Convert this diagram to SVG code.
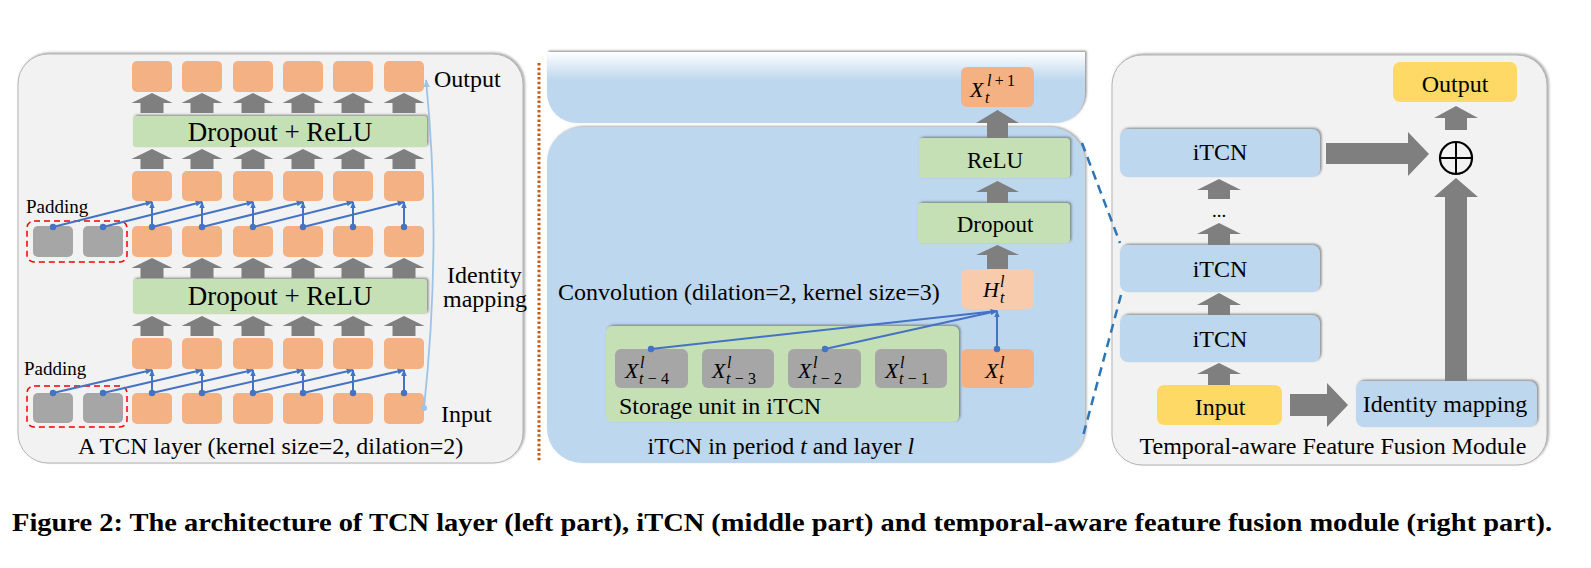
<svg xmlns="http://www.w3.org/2000/svg" width="1591" height="568" viewBox="0 0 1591 568">
<style>
  text { font-family: "Liberation Serif", "Times New Roman", serif; fill: #000; }
  .t24 { font-size: 24px; }
  .t23 { font-size: 23px; }
  .t27 { font-size: 27px; }
  .t19 { font-size: 19px; }
  .mid { text-anchor: middle; }
  .mx { font-size: 22px; font-style: italic; }
  .ms { font-size: 16px; font-style: italic; }
  .panel { fill: #F2F2F2; stroke: #B4B4B4; stroke-width: 1; }
  .org { fill: #F4B183; }
  .org2 { fill: #F8CBAD; }
  .gry { fill: #A6A6A6; }
  .grn { fill: #C5E0B4; }
  .blu { fill: #BDD7EE; }
  .yel { fill: #FFD966; }
  .garr { fill: #7F7F7F; }
  .conn { stroke: #4472C4; stroke-width: 2; fill: none; }
  .dot { fill: #4472C4; }
  .pad { fill: none; stroke: #FF0000; stroke-width: 1.5; stroke-dasharray: 6 4; }
  .dash { stroke: #2E75B6; stroke-width: 2.5; stroke-dasharray: 9 6; fill: none; }
</style>
<defs>
  <filter id="sh" x="-5%" y="-10%" width="110%" height="120%">
    <feDropShadow dx="1.5" dy="-1.2" stdDeviation="1" flood-color="#606060" flood-opacity="0.7"/>
  </filter>
  <filter id="psh" x="-5%" y="-5%" width="110%" height="110%">
    <feDropShadow dx="1.5" dy="-1" stdDeviation="1.2" flood-color="#707070" flood-opacity="0.6"/>
  </filter>
  <linearGradient id="fade" gradientUnits="userSpaceOnUse" x1="0" y1="52" x2="0" y2="80">
    <stop offset="0" stop-color="#FFFFFF"/>
    <stop offset="1" stop-color="#BDD7EE"/>
  </linearGradient>
  <path id="ua" d="M0,0 L20.5,10 L11.5,10 L11.5,20 L-11.5,20 L-11.5,10 L-20.5,10 Z"/>
  <marker id="ah" viewBox="0 0 10 10" refX="9" refY="5" markerWidth="7" markerHeight="7" markerUnits="userSpaceOnUse" orient="auto">
    <path d="M0,1 L10,5 L0,9 Z" fill="#4472C4"/>
  </marker>
  <marker id="ahl" viewBox="0 0 10 10" refX="9" refY="5" markerWidth="8" markerHeight="8" markerUnits="userSpaceOnUse" orient="auto">
    <path d="M0,1 L10,5 L0,9 Z" fill="#9DC3E6"/>
  </marker>
</defs>

<!-- ===== Left panel: TCN layer ===== -->
<g id="left-panel">
  <rect class="panel" x="18" y="54" width="505" height="409" rx="30" filter="url(#psh)"/>
</g>
<g id="tcn-row1">
  <rect class="org" x="132" y="61" width="40" height="31" rx="5"/>
  <rect class="org" x="182" y="61" width="40" height="31" rx="5"/>
  <rect class="org" x="233" y="61" width="40" height="31" rx="5"/>
  <rect class="org" x="283" y="61" width="40" height="31" rx="5"/>
  <rect class="org" x="333" y="61" width="40" height="31" rx="5"/>
  <rect class="org" x="384" y="61" width="40" height="31" rx="5"/>
</g>
<g id="tcn-bar1">
  <rect class="grn" x="133" y="116" width="294" height="31" rx="3" filter="url(#sh)"/>
  <text class="t27 mid" x="280" y="141">Dropout + ReLU</text>
</g>
<g id="tcn-row2">
  <rect class="org" x="132" y="171" width="40" height="30" rx="5"/>
  <rect class="org" x="182" y="171" width="40" height="30" rx="5"/>
  <rect class="org" x="233" y="171" width="40" height="30" rx="5"/>
  <rect class="org" x="283" y="171" width="40" height="30" rx="5"/>
  <rect class="org" x="333" y="171" width="40" height="30" rx="5"/>
  <rect class="org" x="384" y="171" width="40" height="30" rx="5"/>
</g>
<g id="tcn-row3">
  <rect class="gry" x="33" y="226" width="40" height="31" rx="5"/>
  <rect class="gry" x="83" y="226" width="40" height="31" rx="5"/>
  <rect class="org" x="132" y="226" width="40" height="31" rx="5"/>
  <rect class="org" x="182" y="226" width="40" height="31" rx="5"/>
  <rect class="org" x="233" y="226" width="40" height="31" rx="5"/>
  <rect class="org" x="283" y="226" width="40" height="31" rx="5"/>
  <rect class="org" x="333" y="226" width="40" height="31" rx="5"/>
  <rect class="org" x="384" y="226" width="40" height="31" rx="5"/>
  <rect class="pad" x="27" y="221" width="100" height="41" rx="7"/>
  <text class="t19" x="26" y="213">Padding</text>
</g>
<g id="tcn-bar2">
  <rect class="grn" x="133" y="279" width="294" height="35" rx="3" filter="url(#sh)"/>
  <text class="t27 mid" x="280" y="305">Dropout + ReLU</text>
</g>
<g id="tcn-row4">
  <rect class="org" x="132" y="338" width="40" height="31" rx="5"/>
  <rect class="org" x="182" y="338" width="40" height="31" rx="5"/>
  <rect class="org" x="233" y="338" width="40" height="31" rx="5"/>
  <rect class="org" x="283" y="338" width="40" height="31" rx="5"/>
  <rect class="org" x="333" y="338" width="40" height="31" rx="5"/>
  <rect class="org" x="384" y="338" width="40" height="31" rx="5"/>
</g>
<g id="tcn-row5">
  <rect class="gry" x="33" y="393" width="40" height="30" rx="5"/>
  <rect class="gry" x="83" y="393" width="40" height="30" rx="5"/>
  <rect class="org" x="132" y="393" width="40" height="31" rx="5"/>
  <rect class="org" x="182" y="393" width="40" height="31" rx="5"/>
  <rect class="org" x="233" y="393" width="40" height="31" rx="5"/>
  <rect class="org" x="283" y="393" width="40" height="31" rx="5"/>
  <rect class="org" x="333" y="393" width="40" height="31" rx="5"/>
  <rect class="org" x="384" y="393" width="40" height="31" rx="5"/>
  <rect class="pad" x="27" y="386" width="100" height="41" rx="7"/>
  <text class="t19" x="24" y="375">Padding</text>
</g>
<g id="tcn-labels">
  <text class="t24" x="434" y="87">Output</text>
  <text class="t24" x="447" y="283">Identity</text>
  <text class="t24" x="443" y="307">mapping</text>
  <text class="t24" x="441" y="422">Input</text>
  <text class="t24" x="78" y="454">A TCN layer (kernel size=2, dilation=2)</text>
</g>

<!-- divider -->
<g id="divider">
  <line x1="539" y1="63" x2="539" y2="462" stroke="#C55A11" stroke-width="3" stroke-dasharray="2.5 2.2"/>
</g>

<!-- ===== Middle panel: iTCN ===== -->
<g id="mid-prev-layer">
  <path d="M547,52 H1085 V93 A30,30 0 0 1 1055,123 H577 A30,30 0 0 1 547,93 Z" fill="url(#fade)" filter="url(#sh)"/>
</g>
<g id="mid-panel">
  <rect class="blu" x="547" y="127" width="538" height="336" rx="35" filter="url(#psh)"/>
  <text class="t24" x="647.5" y="454">iTCN in period <tspan font-style="italic">t</tspan> and layer <tspan font-style="italic">l</tspan></text>
  <text class="t24" x="558" y="300">Convolution (dilation=2, kernel size=3)</text>
</g>
<g id="x-next">
  <rect class="org" x="961" y="67" width="73" height="40" rx="6"/>
  <text class="mx" x="970" y="97">X</text>
  <text class="ms" x="987" y="86" textLength="28" lengthAdjust="spacing">l<tspan font-style="normal">+1</tspan></text>
  <text class="ms" x="985" y="103">t</text>
</g>
<g id="relu">
  <rect class="grn" x="919" y="138" width="151" height="40" rx="4" filter="url(#sh)"/>
  <text class="t23 mid" x="995" y="168">ReLU</text>
</g>
<g id="dropout">
  <rect class="grn" x="918" y="203" width="152" height="40" rx="4" filter="url(#sh)"/>
  <text class="t23 mid" x="995" y="232">Dropout</text>
</g>
<g id="h-node">
  <rect class="org2" x="961" y="269" width="73" height="40" rx="6"/>
  <text class="mx" x="983" y="297">H</text>
  <text class="ms" x="1000" y="287">l</text>
  <text class="ms" x="1000" y="303">t</text>
</g>
<g id="storage-unit">
  <rect class="grn" x="606" y="326" width="353" height="96" rx="6" filter="url(#sh)"/>
  <text class="t24" x="619" y="414">Storage unit in iTCN</text>
</g>
<g id="x-t-4">
  <rect class="gry" x="615" y="349" width="73" height="39" rx="6"/>
  <text class="mx" x="625" y="378">X</text>
  <text class="ms" x="640" y="368">l</text>
  <text class="ms" x="639" y="384" textLength="30" lengthAdjust="spacing">t<tspan font-style="normal">−4</tspan></text>
</g>
<g id="x-t-3">
  <rect class="gry" x="702" y="349" width="72" height="39" rx="6"/>
  <text class="mx" x="712" y="378">X</text>
  <text class="ms" x="727" y="368">l</text>
  <text class="ms" x="726" y="384" textLength="30" lengthAdjust="spacing">t<tspan font-style="normal">−3</tspan></text>
</g>
<g id="x-t-2">
  <rect class="gry" x="788" y="349" width="73" height="39" rx="6"/>
  <text class="mx" x="798" y="378">X</text>
  <text class="ms" x="813" y="368">l</text>
  <text class="ms" x="812" y="384" textLength="30" lengthAdjust="spacing">t<tspan font-style="normal">−2</tspan></text>
</g>
<g id="x-t-1">
  <rect class="gry" x="875" y="349" width="72" height="39" rx="6"/>
  <text class="mx" x="885" y="378">X</text>
  <text class="ms" x="900" y="368">l</text>
  <text class="ms" x="899" y="384" textLength="30" lengthAdjust="spacing">t<tspan font-style="normal">−1</tspan></text>
</g>
<g id="x-t">
  <rect class="org" x="961" y="349" width="73" height="39" rx="6"/>
  <text class="mx" x="985" y="378">X</text>
  <text class="ms" x="1000" y="368">l</text>
  <text class="ms" x="999" y="384">t</text>
</g>

<!-- ===== Right panel: fusion module ===== -->
<g id="right-panel">
  <rect class="panel" x="1112" y="55" width="435" height="410" rx="30" filter="url(#psh)"/>
  <text class="t24 mid" x="1333" y="454">Temporal-aware Feature Fusion Module</text>
</g>
<g id="itcn-top">
  <rect class="blu" x="1120" y="129" width="200" height="48" rx="8" filter="url(#sh)"/>
  <text class="t24 mid" x="1220" y="160">iTCN</text>
</g>
<g id="ellipsis">
  <text class="t19 mid" x="1219" y="217">...</text>
</g>
<g id="itcn-2">
  <rect class="blu" x="1120" y="245" width="200" height="47" rx="8" filter="url(#sh)"/>
  <text class="t24 mid" x="1220" y="277">iTCN</text>
</g>
<g id="itcn-1">
  <rect class="blu" x="1120" y="315" width="200" height="47" rx="8" filter="url(#sh)"/>
  <text class="t24 mid" x="1220" y="347">iTCN</text>
</g>
<g id="input">
  <rect class="yel" x="1157" y="385" width="125" height="40" rx="7"/>
  <text class="t24 mid" x="1220" y="415">Input</text>
</g>
<g id="identity-mapping">
  <rect class="blu" x="1356" y="381" width="181" height="46" rx="8" filter="url(#sh)"/>
  <text class="t24 mid" x="1445" y="412">Identity mapping</text>
</g>
<g id="output">
  <rect class="yel" x="1393" y="62" width="124" height="40" rx="7"/>
  <text class="t24 mid" x="1455" y="92">Output</text>
</g>
<g id="sum">
  <circle cx="1456" cy="158" r="16" fill="none" stroke="#000" stroke-width="2.2"/>
  <line x1="1440" y1="158" x2="1472" y2="158" stroke="#000" stroke-width="2"/>
  <line x1="1456" y1="142" x2="1456" y2="174" stroke="#000" stroke-width="2"/>
</g>

<!-- ===== Connectors ===== -->
<g id="connectors">
  <g class="garr">
    <use href="#ua" x="152" y="93"/><use href="#ua" x="202" y="93"/><use href="#ua" x="253" y="93"/>
    <use href="#ua" x="303" y="93"/><use href="#ua" x="353" y="93"/><use href="#ua" x="404" y="93"/>
    <use href="#ua" x="152" y="149"/><use href="#ua" x="202" y="149"/><use href="#ua" x="253" y="149"/>
    <use href="#ua" x="303" y="149"/><use href="#ua" x="353" y="149"/><use href="#ua" x="404" y="149"/>
    <use href="#ua" x="152" y="258"/><use href="#ua" x="202" y="258"/><use href="#ua" x="253" y="258"/>
    <use href="#ua" x="303" y="258"/><use href="#ua" x="353" y="258"/><use href="#ua" x="404" y="258"/>
    <use href="#ua" x="152" y="316"/><use href="#ua" x="202" y="316"/><use href="#ua" x="253" y="316"/>
    <use href="#ua" x="303" y="316"/><use href="#ua" x="353" y="316"/><use href="#ua" x="404" y="316"/>
  </g>
  <g>
    <line class="conn" x1="53" y1="227" x2="152" y2="202" marker-end="url(#ah)"/>
    <line class="conn" x1="103" y1="227" x2="202" y2="202" marker-end="url(#ah)"/>
    <line class="conn" x1="152" y1="227" x2="253" y2="202" marker-end="url(#ah)"/>
    <line class="conn" x1="202" y1="227" x2="303" y2="202" marker-end="url(#ah)"/>
    <line class="conn" x1="253" y1="227" x2="353" y2="202" marker-end="url(#ah)"/>
    <line class="conn" x1="303" y1="227" x2="404" y2="202" marker-end="url(#ah)"/>
    <line class="conn" x1="152" y1="227" x2="152" y2="202" marker-end="url(#ah)"/>
    <line class="conn" x1="202" y1="227" x2="202" y2="202" marker-end="url(#ah)"/>
    <line class="conn" x1="253" y1="227" x2="253" y2="202" marker-end="url(#ah)"/>
    <line class="conn" x1="303" y1="227" x2="303" y2="202" marker-end="url(#ah)"/>
    <line class="conn" x1="353" y1="227" x2="353" y2="202" marker-end="url(#ah)"/>
    <line class="conn" x1="404" y1="227" x2="404" y2="202" marker-end="url(#ah)"/>
    <circle class="dot" cx="53" cy="227" r="3.2"/><circle class="dot" cx="103" cy="227" r="3.2"/>
    <circle class="dot" cx="152" cy="227" r="3.2"/><circle class="dot" cx="202" cy="227" r="3.2"/>
    <circle class="dot" cx="253" cy="227" r="3.2"/><circle class="dot" cx="303" cy="227" r="3.2"/>
    <circle class="dot" cx="353" cy="227" r="3.2"/><circle class="dot" cx="404" cy="227" r="3.2"/>
  </g>
  <g>
    <line class="conn" x1="53" y1="393" x2="152" y2="370" marker-end="url(#ah)"/>
    <line class="conn" x1="103" y1="393" x2="202" y2="370" marker-end="url(#ah)"/>
    <line class="conn" x1="152" y1="393" x2="253" y2="370" marker-end="url(#ah)"/>
    <line class="conn" x1="202" y1="393" x2="303" y2="370" marker-end="url(#ah)"/>
    <line class="conn" x1="253" y1="393" x2="353" y2="370" marker-end="url(#ah)"/>
    <line class="conn" x1="303" y1="393" x2="404" y2="370" marker-end="url(#ah)"/>
    <line class="conn" x1="152" y1="393" x2="152" y2="370" marker-end="url(#ah)"/>
    <line class="conn" x1="202" y1="393" x2="202" y2="370" marker-end="url(#ah)"/>
    <line class="conn" x1="253" y1="393" x2="253" y2="370" marker-end="url(#ah)"/>
    <line class="conn" x1="303" y1="393" x2="303" y2="370" marker-end="url(#ah)"/>
    <line class="conn" x1="353" y1="393" x2="353" y2="370" marker-end="url(#ah)"/>
    <line class="conn" x1="404" y1="393" x2="404" y2="370" marker-end="url(#ah)"/>
    <circle class="dot" cx="53" cy="393" r="3.2"/><circle class="dot" cx="103" cy="393" r="3.2"/>
    <circle class="dot" cx="152" cy="393" r="3.2"/><circle class="dot" cx="202" cy="393" r="3.2"/>
    <circle class="dot" cx="253" cy="393" r="3.2"/><circle class="dot" cx="303" cy="393" r="3.2"/>
    <circle class="dot" cx="353" cy="393" r="3.2"/><circle class="dot" cx="404" cy="393" r="3.2"/>
  </g>
  <path d="M424,408 Q442,240 426,80" stroke="#9DC3E6" stroke-width="1.8" fill="none" marker-end="url(#ahl)"/>
  <circle cx="424" cy="408" r="3" fill="#9DC3E6"/>

  <g class="garr">
    <path d="M997.5,110 L1019,123 L1008,123 L1008,138 L987,138 L987,123 L976,123 Z"/>
    <path d="M997.5,181 L1019,192 L1008,192 L1008,203 L987,203 L987,192 L976,192 Z"/>
    <path d="M997.5,245 L1019,255 L1008,255 L1008,269 L987,269 L987,255 L976,255 Z"/>
  </g>
  <line class="conn" x1="651" y1="349" x2="997" y2="311" marker-end="url(#ah)"/>
  <line class="conn" x1="825" y1="349" x2="997" y2="311" marker-end="url(#ah)"/>
  <line class="conn" x1="997" y1="349" x2="997" y2="311" marker-end="url(#ah)"/>
  <circle class="dot" cx="651" cy="349" r="3.2"/>
  <circle class="dot" cx="825" cy="349" r="3.2"/>
  <circle class="dot" cx="997" cy="349" r="3.2"/>

  <line class="dash" x1="1082" y1="143" x2="1120" y2="243"/>
  <line class="dash" x1="1121" y1="295" x2="1083" y2="436"/>

  <g class="garr">
    <path d="M1219,179 L1241,190 L1230,190 L1230,199 L1208,199 L1208,190 L1197,190 Z"/>
    <path d="M1219,223 L1241,234 L1230,234 L1230,245 L1208,245 L1208,234 L1197,234 Z"/>
    <path d="M1219,293 L1241,305 L1230,305 L1230,315 L1208,315 L1208,305 L1197,305 Z"/>
    <path d="M1219,363 L1241,374 L1230,374 L1230,385 L1208,385 L1208,374 L1197,374 Z"/>
    <path d="M1456,106 L1478,118 L1467,118 L1467,130 L1445,130 L1445,118 L1434,118 Z"/>
    <path d="M1456,178 L1478,197 L1467,197 L1467,381 L1445,381 L1445,197 L1434,197 Z"/>
    <path d="M1326,143 L1408,143 L1408,132 L1429,154 L1408,176 L1408,164 L1326,164 Z"/>
    <path d="M1290,394 L1327,394 L1327,383 L1348,405 L1327,427 L1327,416 L1290,416 Z"/>
  </g>
</g>

<g id="caption">
  <text x="12" y="531" font-size="26" font-weight="bold" textLength="1540" lengthAdjust="spacingAndGlyphs">Figure 2: The architecture of TCN layer (left part), iTCN (middle part) and temporal-aware feature fusion module (right part).</text>
</g>
</svg>
